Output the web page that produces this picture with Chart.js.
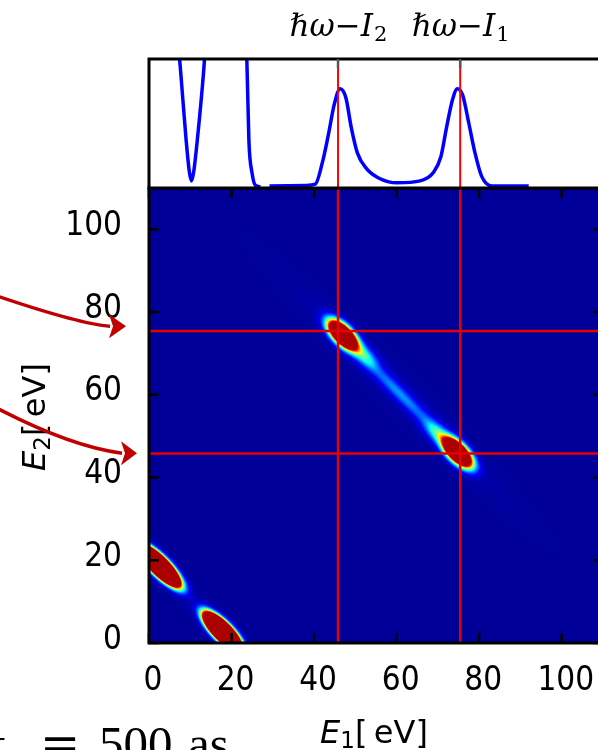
<!DOCTYPE html>
<html>
<head>
<meta charset="utf-8">
<script src="https://cdn.jsdelivr.net/npm/chart.js@4.4.0/dist/chart.umd.min.js"></script>
<style>
  html, body { margin: 0; padding: 0; background: #fff; overflow: hidden; width: 598px; height: 750px; }
  canvas { position: absolute; left: 0; top: 0; }
</style>
</head>
<body>
<canvas id="mapChart" width="640" height="750"></canvas>
<canvas id="specChart" width="640" height="192"></canvas>
<script>
// energy axes [eV]
const energyMin = 0;
const energyMax = 110;
const tickValues = [0, 20, 40, 60, 80, 100];

// marker energies (red lines): ħω−I2, ħω−I1
const markerEnergies = [45.8, 75.4];
const markerSubscripts = ['2', '1'];

// top panel: 1D spectrum (rel. units, clipped at 1), null = gap in the curve
const spectrumE = [6.5, 7.7, 9.0, 9.8, 10.3, 10.8, 11.7, 13.2, 14.2, 18.5, 23.2, 23.7, 24.2, 25.0, 25.8, 27.0, 28.2,
  29.2, 38.0, 40.3, 42.1, 43.5, 44.9, 46.3, 47.7, 49.0, 50.5, 52.7, 55.5, 60.1, 65.7, 68.9, 70.7, 72.1, 73.5,
  74.7, 76.0, 77.5, 79.0, 80.6, 83.1, 92.0];
const spectrumY = [1.35, 0.89, 0.37, 0.12, 0.055, 0.12, 0.37, 0.89, 1.35, 2.5, 1.2, 1.0, 0.37, 0.11, 0.02, 0.01, null,
  0.016, 0.02, 0.03, 0.21, 0.42, 0.65, 0.77, 0.70, 0.47, 0.27, 0.15, 0.08, 0.04, 0.055, 0.12, 0.24, 0.47, 0.68,
  0.77, 0.72, 0.50, 0.27, 0.09, 0.016, 0.016];

// 2D map: peaks (centre E1, E2, height, width along / across the E1+E2=const line, eV)
const peakE1 = [47.0, 74.7, 2.5, 17.8, 52.5, 69.5, 60.8, 61.0];
const peakE2 = [74.4, 46.1, 18.7, 2.8, 69.2, 51.0, 60.2, 60.3];
const peakAmp = [3.2, 3.2, 9, 9, 0.3, 0.3, 0.2, 0.06];
const peakWidthAlong = [2.7, 2.7, 3.3, 3.0, 2.5, 2.5, 8, 18];
const peakWidthAcross = [1.25, 1.25, 1.05, 1.05, 1.3, 1.3, 1.0, 2.0];

// arrows on the left point to these E2 values
const arrowTargets = [76.6, 45.9];

const labelFont = "'DejaVu Sans Condensed', 'DejaVu Sans', sans-serif";
const titleFont = "'DejaVu Sans', sans-serif";
const jetStops = [
  [0, [0, 0, 153]], [0.11, [0, 0, 255]], [0.36, [0, 255, 255]],
  [0.62, [255, 255, 0]], [0.87, [255, 0, 0]], [1, [170, 0, 0]],
];

function jet(t) {
  for (let i = 1; i < jetStops.length; i++) {
    if (t <= jetStops[i][0]) {
      const [t0, c0] = jetStops[i - 1];
      const [t1, c1] = jetStops[i];
      const f = (t - t0) / (t1 - t0);
      return [0, 1, 2].map((k) => c0[k] + (c1[k] - c0[k]) * f);
    }
  }
  return jetStops[jetStops.length - 1][1];
}

// paints the intensity map inside the chart area
const mapPlugin = {
  id: 'intensityMap',
  beforeDatasetsDraw(chart) {
    const { ctx, chartArea: a, scales: { x, y } } = chart;
    const left = Math.round(a.left), top = Math.round(a.top);
    const w = Math.round(a.right) - left, h = Math.round(a.bottom) - top;
    const img = ctx.createImageData(w, h);
    for (let j = 0; j < h; j++) {
      const e2 = y.getValueForPixel(top + j + 0.5);
      for (let i = 0; i < w; i++) {
        const e1 = x.getValueForPixel(left + i + 0.5);
        let s = 0;
        for (let k = 0; k < peakE1.length; k++) {
          const d1 = e1 - peakE1[k], d2 = e2 - peakE2[k];
          const u = (d1 - d2) / Math.SQRT2, v = (d1 + d2) / Math.SQRT2;
          const wa = peakWidthAlong[k], wc = peakWidthAcross[k];
          s += peakAmp[k] * Math.exp(-0.5 * (u * u / (wa * wa) + v * v / (wc * wc)));
        }
        const c = jet(Math.min(s, 1));
        const p = (j * w + i) * 4;
        img.data[p] = c[0]; img.data[p + 1] = c[1]; img.data[p + 2] = c[2]; img.data[p + 3] = 255;
      }
    }
    ctx.putImageData(img, left, top);
  },
};

// black frame + inward tick marks
function framePlugin(opts) {
  return {
    id: 'frame',
    afterDatasetsDraw(chart) {
      const { ctx, chartArea: a, scales: { x, y } } = chart;
      ctx.save();
      ctx.strokeStyle = '#000';
      ctx.lineWidth = 3;
      ctx.strokeRect(a.left, a.top, a.right - a.left, a.bottom - a.top);
      ctx.lineWidth = 2.5;
      ctx.strokeStyle = opts.tickColor;
      ctx.beginPath();
      (opts.xTicks || []).forEach((v) => {
        const px = x.getPixelForValue(v);
        if (opts.top) { ctx.moveTo(px, a.top); ctx.lineTo(px, a.top + opts.len); }
        if (opts.bottom) { ctx.moveTo(px, a.bottom); ctx.lineTo(px, a.bottom - opts.len); }
      });
      (opts.yTicks || []).forEach((v) => {
        const py = y.getPixelForValue(v);
        ctx.moveTo(a.left, py); ctx.lineTo(a.left + opts.len, py);
        ctx.moveTo(a.right, py); ctx.lineTo(a.right - opts.len, py);
      });
      ctx.stroke();
      ctx.restore();
    },
  };
}

function drawEnergyTitle(ctx, x, y, sub) {
  ctx.font = 'italic 32px ' + titleFont;
  const wE = ctx.measureText('E').width;
  ctx.font = '23px ' + titleFont;
  const wS = ctx.measureText(sub).width;
  ctx.font = '32px ' + titleFont;
  const rest = '[\u2009eV]';
  const wR = ctx.measureText(rest).width;
  const sx = x - (wE + wS + wR) / 2;
  ctx.fillStyle = '#000';
  ctx.textBaseline = 'alphabetic';
  ctx.textAlign = 'left';
  ctx.font = 'italic 32px ' + titleFont;
  ctx.fillText('E', sx, y);
  ctx.font = '23px ' + titleFont;
  ctx.fillText(sub, sx + wE, y + 5);
  ctx.font = '32px ' + titleFont;
  ctx.fillText(rest, sx + wE + wS, y);
}

function drawArrow(ctx, tx, ty, back, ctrl, start) {
  ctx.beginPath();
  ctx.moveTo(tx + start[0], ty + start[1]);
  ctx.quadraticCurveTo(tx + ctrl[0], ty + ctrl[1], tx - back, ty);
  ctx.stroke();
  ctx.beginPath();
  ctx.moveTo(tx, ty);
  ctx.lineTo(tx - back - 1, ty - 12);
  ctx.lineTo(tx - back + 3, ty);
  ctx.lineTo(tx - back - 1, ty + 12);
  ctx.closePath();
  ctx.fill();
}

const annotationPlugin = {
  id: 'annotations',
  afterDraw(chart) {
    const { ctx, chartArea: a, scales: { y } } = chart;
    ctx.save();
    drawEnergyTitle(ctx, (a.left + a.right) / 2 - 2, 743, '1');
    ctx.save();
    ctx.translate(45, 417);
    ctx.rotate(-Math.PI / 2);
    drawEnergyTitle(ctx, 0, 0, '2');
    ctx.restore();

    ctx.strokeStyle = '#c00000';
    ctx.fillStyle = '#c00000';
    ctx.lineWidth = 3.5;
    drawArrow(ctx, a.left - 23, y.getPixelForValue(arrowTargets[0]), 16, [-48, -2], [-146, -36]);
    drawArrow(ctx, a.left - 12, y.getPixelForValue(arrowTargets[1]), 15, [-71, -7], [-157, -54]);

    ctx.fillStyle = '#000';
    ctx.textAlign = 'left';
    ctx.font = "italic 48px 'Liberation Serif', serif";
    ctx.fillText('τ', -14, 760);
    ctx.font = "48px 'DejaVu Serif', serif";
    ctx.fillText('=', 40, 760);
    ctx.font = "49px 'Liberation Serif', serif";
    ctx.fillText('500', 99, 760);
    ctx.fillText('as', 188, 760);
    ctx.restore();
  },
};

// top panel: white plot area and the ħω−I labels above it
const spectrumDecor = {
  id: 'spectrumDecor',
  beforeDatasetsDraw(chart) {
    const { ctx, chartArea: a } = chart;
    ctx.save();
    ctx.fillStyle = '#fff';
    ctx.fillRect(a.left, a.top, a.right - a.left, a.bottom - a.top);
    ctx.restore();
  },
  afterDraw(chart) {
    const { ctx, scales: { x } } = chart;
    ctx.save();
    ctx.fillStyle = '#000';
    ctx.textBaseline = 'alphabetic';
    ctx.textAlign = 'left';
    markerEnergies.forEach((e, i) => {
      const main = 'ℏω−I';
      ctx.font = "italic 31px 'DejaVu Serif', serif";
      const wm = ctx.measureText(main).width;
      ctx.font = "21px 'DejaVu Serif', serif";
      const ws = ctx.measureText(markerSubscripts[i]).width;
      const sx = x.getPixelForValue(e) - (wm + ws) / 2;
      ctx.font = "italic 31px 'DejaVu Serif', serif";
      ctx.fillText(main, sx, 36);
      ctx.font = "21px 'DejaVu Serif', serif";
      ctx.fillText(markerSubscripts[i], sx + wm + 1, 41);
    });
    ctx.restore();
  },
};

const hiddenGrid = { display: false, drawTicks: false };
const mapLineColor = '#e60000';

// 2D map
new Chart(document.getElementById('mapChart'), {
  type: 'scatter',
  data: {
    datasets: [
      ...markerEnergies.map((e) => ({ data: [{ x: e, y: energyMin }, { x: e, y: energyMax }], borderColor: mapLineColor })),
      ...markerEnergies.map((e) => ({ data: [{ x: energyMin, y: e }, { x: energyMax, y: e }], borderColor: mapLineColor })),
    ],
  },
  options: {
    responsive: false,
    animation: false,
    devicePixelRatio: 1,
    layout: { padding: { left: 0, top: 188, right: 37, bottom: 0 } },
    datasets: { scatter: { showLine: true, pointRadius: 0, borderWidth: 2.5 } },
    plugins: { legend: { display: false }, tooltip: { enabled: false } },
    scales: {
      x: {
        type: 'linear', min: energyMin, max: energyMax,
        grid: hiddenGrid, border: { display: false },
        afterBuildTicks: (s) => { s.ticks = tickValues.map((v) => ({ value: v })); },
        afterFit: (s) => { s.height = 107; },
        ticks: { padding: 19, labelOffset: 4, color: '#000', maxRotation: 0, autoSkip: false, font: { family: labelFont, size: 33 } },
      },
      y: {
        type: 'linear', min: energyMin, max: energyMax,
        grid: hiddenGrid, border: { display: false },
        afterBuildTicks: (s) => { s.ticks = tickValues.map((v) => ({ value: v })); },
        afterFit: (s) => { s.width = 149; },
        ticks: { padding: 27, labelOffset: -3, color: '#000', autoSkip: false, font: { family: labelFont, size: 33 } },
      },
    },
  },
  plugins: [mapPlugin, framePlugin({ xTicks: tickValues, yTicks: tickValues, top: true, bottom: true, len: 10, tickColor: '#000' }), annotationPlugin],
});

// top panel spectrum
new Chart(document.getElementById('specChart'), {
  type: 'scatter',
  data: {
    datasets: [
      ...markerEnergies.map((e) => ({ data: [{ x: e, y: 0 }, { x: e, y: 1 }], borderColor: '#ff0000', borderWidth: 2 })),
      {
        data: spectrumE.map((e, i) => ({ x: e, y: spectrumY[i] })),
        borderColor: '#0000ff', borderWidth: 3.5, cubicInterpolationMode: 'monotone',
      },
    ],
  },
  options: {
    responsive: false,
    animation: false,
    devicePixelRatio: 1,
    layout: { padding: { left: 149, top: 0, right: 37, bottom: 4 } },
    datasets: { scatter: { showLine: true, pointRadius: 0 } },
    plugins: { legend: { display: false }, tooltip: { enabled: false } },
    scales: {
      x: {
        type: 'linear', position: 'top', min: energyMin, max: energyMax,
        grid: hiddenGrid, border: { display: false },
        afterBuildTicks: (s) => { s.ticks = markerEnergies.map((v) => ({ value: v })); },
        afterFit: (s) => { s.height = 59; },
        ticks: { display: false },
      },
      y: { display: false, min: 0, max: 1 },
    },
  },
  plugins: [spectrumDecor, framePlugin({ xTicks: markerEnergies, top: true, len: 9, tickColor: '#555' })],
});
</script>
</body>
</html>
